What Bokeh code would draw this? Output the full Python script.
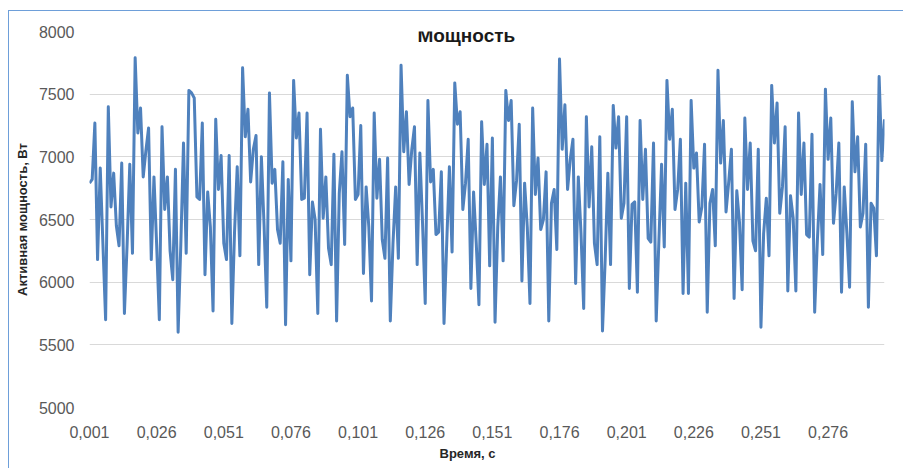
import numpy as np
from bokeh.plotting import figure
from bokeh.models import Range1d, FixedTicker, Label, InlineStyleSheet, Title
from bokeh.embed import file_html
from bokeh.resources import INLINE

# Active power, W (one sample per millisecond)
power = [
    6790, 6820, 7270, 6180, 6910, 6300, 5700, 7400, 6600, 6870, 6450, 6290, 6950, 5750, 6300, 6940,
    6230, 7790, 7190, 7390, 6840, 7050, 7230, 6180, 6840, 6300, 5700, 7240, 6580, 6840, 6250, 6020,
    6900, 5600, 6300, 7110, 6230,
    7530, 7510, 7470, 6680, 6660, 7270, 6060, 6720, 6440, 5770, 7300, 6740, 7010, 6310, 6180, 7010,
    5670, 6400, 6920, 6210, 7710, 7160, 7380, 6800, 7060, 7170, 6140, 7000, 6450, 5800, 7510, 6790,
    6900, 6420, 6310, 6960, 5660,
    6820, 6170, 7610, 7150, 7350, 6660, 6670, 7350, 6060, 6640, 6500, 5750, 7220, 6510, 6840, 6270,
    6140, 7020, 5690, 6710, 7040, 6300, 7650, 7320, 7390, 6660, 6700, 7250, 6070, 6760, 6440, 5850,
    7350, 6670, 6980, 6340, 6190, 6990,
    5690, 6310, 6760, 6190, 7730, 7040, 7360, 6780, 7060, 7240, 6140, 7030, 6470, 5830, 7450, 6800,
    6900, 6380, 6400, 6880, 5670, 6310, 6920, 6240, 7590, 7260, 7360, 6580, 6790, 7140, 5950, 6720,
    6310, 5820, 7280, 6780,
    7100, 6130, 7150, 5680, 6440, 6840, 6170, 7530, 7290, 7450, 6610, 6810, 7260, 6010, 6790, 6440,
    5830, 7390, 6700, 6990, 6420, 6500, 6880, 5690, 6630, 6740, 6260, 7780, 7060, 7415, 6740, 6980,
    7140, 5990, 6840, 6390, 5790,
    7320, 6600, 7080, 6310, 6140, 7160, 5610, 6180, 6870, 6140, 7410, 7070, 7320, 6510, 6630, 7320,
    5950, 6620, 6640, 5920, 7290, 6660, 7060, 6350, 6320, 7110, 5690, 6330, 6940, 6280, 7610, 7140,
    7380, 6580, 6740, 7140, 5910,
    6790, 5910, 7450, 6910, 7030, 6480, 6600, 7100, 5760, 6630, 6740, 6290, 7690, 6950, 7290, 6560,
    6800, 7060, 5870, 6730, 6480, 5940, 7310, 6740, 7110, 6330, 6250, 7060, 5640, 6390, 6670, 6210,
    7570, 7110, 7430, 6550, 6760,
    7240, 5930, 6690, 6510, 5930, 7350, 6700, 7110, 6380, 6360, 7180, 5760, 6330, 6780, 6220, 7540,
    6980, 7310, 6470, 6710, 7110, 5920, 6760, 6390, 5960, 7440, 6880, 7160, 6440, 6550, 7100, 5800,
    6630, 6590, 6210, 7640, 6970, 7300,
]
# Time, s: 0.001 .. step 0.001
time = [round(0.001 * (i + 1), 3) for i in range(len(power))]

x_ticks = time[::25]
x_tick_labels = ["0,001", "0,026", "0,051", "0,076", "0,101", "0,126",
                 "0,151", "0,176", "0,201", "0,226", "0,251", "0,276"]
y_ticks = [5000, 5500, 6000, 6500, 7000, 7500, 8000]

title_text = "\u041cощность"
x_title = "Время, с"
y_title = "Активная мощность, Вт"

FONT = "Liberation Sans"

css = InlineStyleSheet(css=":host { border-left: 1px solid #6e9fd9; border-top: 1px solid #6e9fd9; "
                           "margin-top: 10px; margin-left: 8px; }")

p = figure(width=895, height=458, output_backend="svg", toolbar_location=None,
           x_range=Range1d(time[0], time[-1]), y_range=Range1d(y_ticks[0], y_ticks[-1]),
           min_border_left=80, min_border_right=20, min_border_top=20, min_border_bottom=62,
           stylesheets=[css])
p.outline_line_color = None
p.background_fill_color = "white"
p.border_fill_color = "white"

p.line(time, power, line_color="#4f81bd", line_width=3, line_join="round")

# axes
p.xaxis.ticker = FixedTicker(ticks=x_ticks)
p.xaxis.major_label_overrides = {t: s for t, s in zip(x_ticks, x_tick_labels)}
p.yaxis.ticker = FixedTicker(ticks=y_ticks)
for ax in (p.xaxis, p.yaxis):
    ax.axis_line_color = None
    ax.major_tick_line_color = None
    ax.minor_tick_line_color = None
    ax.major_tick_out = 0
    ax.major_tick_in = 0
    ax.minor_tick_out = 0
    ax.minor_tick_in = 0
    ax.major_label_text_font = FONT
    ax.major_label_text_font_size = "16px"
    ax.major_label_text_color = "#595959"
    ax.axis_label_text_font = FONT
    ax.axis_label_text_font_style = "bold"
    ax.axis_label_text_font_size = "13px"
    ax.axis_label_text_color = "#262626"

p.yaxis.axis_label = y_title
p.xaxis.major_label_standoff = 18
p.yaxis.major_label_standoff = 15
p.yaxis.axis_label_standoff = 6

p.xgrid.grid_line_color = None
p.ygrid.grid_line_color = "#d9d9d9"
p.ygrid.grid_line_width = 1

# chart title, centred on the chart area (not the plot area), as in the original
title_x = 0.1413
p.add_layout(Label(x=title_x, y=7968, text=title_text, text_font=FONT, text_font_style="bold",
                   text_font_size="19px", text_color="#1a1a1a",
                   text_align="center", text_baseline="middle"))
# x-axis title below the axis, shifted to the chart-area centre
p.add_layout(Title(text=x_title, align="left", offset=350, text_font=FONT,
                   text_font_style="bold", text_font_size="13px", text_color="#262626",
                   standoff=6), "below")

open("out.html", "w").write(file_html(p, INLINE))
